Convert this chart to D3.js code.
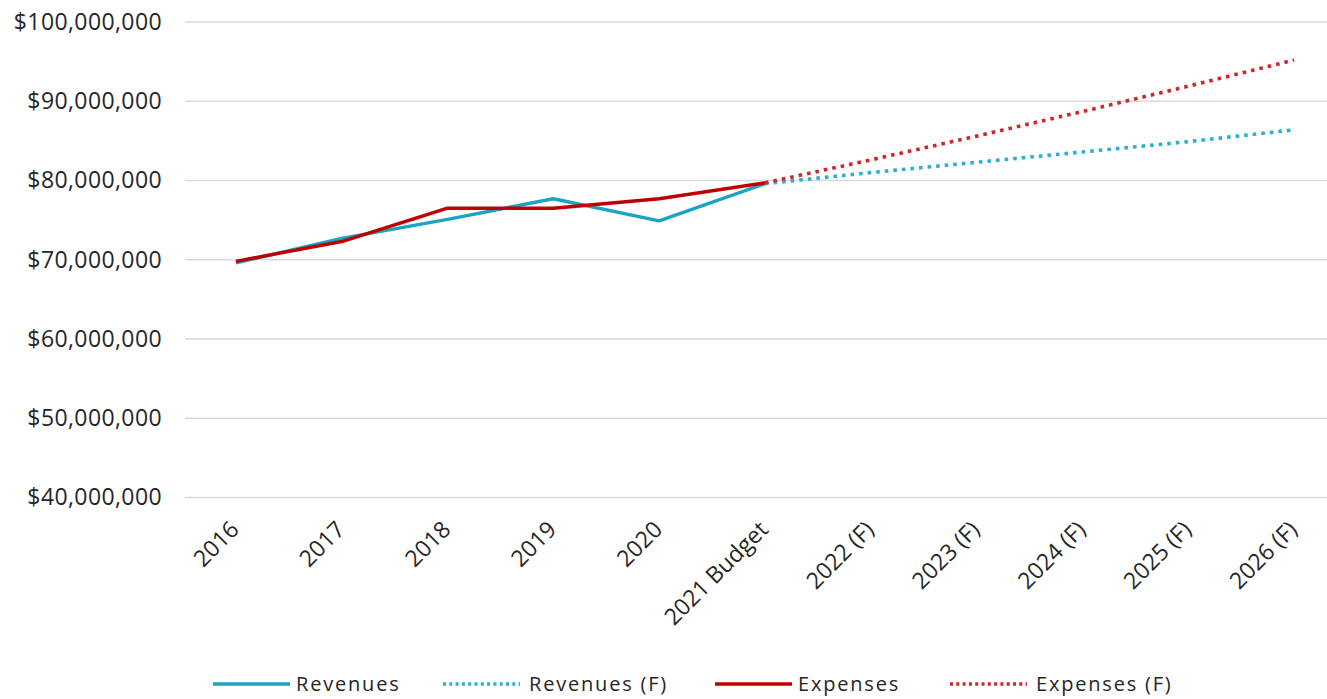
<!DOCTYPE html>
<html>
<head>
  <title></title>
  <script src="https://cdn.jsdelivr.net/npm/d3@7"></script>
  <style>
    body { margin: 0; background: #fff; }
    text { font-family: "Open Sans", sans-serif; fill: #262626; }
  </style>
</head>
<body>
<script type="text/javascript">
// categories on x axis
var categories = ["2016", "2017", "2018", "2019", "2020", "2021 Budget",
                  "2022 (F)", "2023 (F)", "2024 (F)", "2025 (F)", "2026 (F)"];

// series values (null = no point)
var revenues    = [69.6e6, 72.7e6, 75.1e6, 77.7e6, 74.9e6, 79.6e6, null, null, null, null, null];
var revenuesF   = [null, null, null, null, null, 79.6e6, 81.0e6, 82.3e6, 83.6e6, 84.9e6, 86.4e6];
var expenses    = [69.8e6, 72.3e6, 76.5e6, 76.5e6, 77.7e6, 79.7e6, null, null, null, null, null];
var expensesF   = [null, null, null, null, null, 79.7e6, 82.6e6, 85.6e6, 88.7e6, 91.9e6, 95.2e6];

var yTicks = [40e6, 50e6, 60e6, 70e6, 80e6, 90e6, 100e6];
var seriesNames = ["Revenues", "Revenues (F)", "Expenses", "Expenses (F)"];

var width = 1327, height = 699;

var series = [
  {name: seriesNames[0], values: revenues,  color: "#1ba3c6", dash: null},
  {name: seriesNames[1], values: revenuesF, color: "#2bb0d2", dash: "3.6,5"},
  {name: seriesNames[2], values: expenses,  color: "#c00000", dash: null},
  {name: seriesNames[3], values: expensesF, color: "#d0262c", dash: "3.6,5"}
];

var svg = d3.select("body")
            .append("svg")
            .attr("width", width)
            .attr("height", height);

// scales
var x = d3.scalePoint()
          .domain(categories)
          .range([183, 1347])
          .padding(0.5);
var y = d3.scaleLinear()
          .domain([40e6, 100e6])
          .range([497.5, 22]);

// gridlines
svg.append("g")
   .selectAll("line")
   .data(yTicks)
   .enter()
   .append("line")
   .attr("x1", 185)
   .attr("x2", width)
   .attr("y1", function(d){ return y(d); })
   .attr("y2", function(d){ return y(d); })
   .style("stroke", "#d9d9d9")
   .style("stroke-width", 1.5);

// y axis labels
var fmt = d3.format("$,.0f");
var yAxis = d3.axisLeft(y)
              .tickValues(yTicks)
              .tickFormat(fmt)
              .tickSize(0)
              .tickPadding(0);
var gy = svg.append("g")
            .attr("transform", "translate(162,0)")
            .call(yAxis);
gy.select(".domain").remove();
gy.selectAll("text")
  .style("font-family", "Open Sans, sans-serif")
  .style("font-size", "23px")
  .style("letter-spacing", "0.4px")
  .style("fill", "#262626");

// x axis labels
var xAxis = d3.axisBottom(x).tickSize(0).tickPadding(0);
var gx = svg.append("g")
            .attr("transform", "translate(0,531)")
            .call(xAxis);
gx.select(".domain").remove();
gx.selectAll("text")
  .attr("y", 0)
  .attr("dy", 0)
  .attr("x", 0)
  .attr("transform", "translate(4,0) rotate(-45)")
  .style("text-anchor", "end")
  .style("font-family", "Open Sans, sans-serif")
  .style("font-size", "23px")
  .style("fill", "#262626");

// lines
var line = d3.line()
             .defined(function(d){ return d.v !== null; })
             .x(function(d){ return x(d.c); })
             .y(function(d){ return y(d.v); });

series.forEach(function(s){
  var pts = categories.map(function(c, i){ return {c: c, v: s.values[i]}; });
  svg.append("path")
     .datum(pts)
     .attr("d", line)
     .style("fill", "none")
     .style("stroke", s.color)
     .style("stroke-width", s.dash ? 3.6 : 3.4)
     .style("stroke-dasharray", s.dash)
     .style("stroke-linejoin", "round");
});

// legend
var legX = [213, 443, 715, 950];
var leg = svg.append("g")
             .selectAll("g")
             .data(series)
             .enter()
             .append("g")
             .attr("transform", function(d, i){ return "translate(" + legX[i] + ",684)"; });
leg.append("line")
   .attr("x1", 0)
   .attr("x2", 77)
   .style("stroke", function(d){ return d.color; })
   .style("stroke-width", 3.4)
   .style("stroke-dasharray", function(d){ return d.dash ? "3,3.3" : null; });
leg.append("text")
   .attr("x", function(d){ return d.dash ? 86 : 83; })
   .attr("y", 7)
   .style("font-size", "20px")
   .style("letter-spacing", "1.8px")
   .text(function(d){ return d.name; });
</script>
</body>
</html>
